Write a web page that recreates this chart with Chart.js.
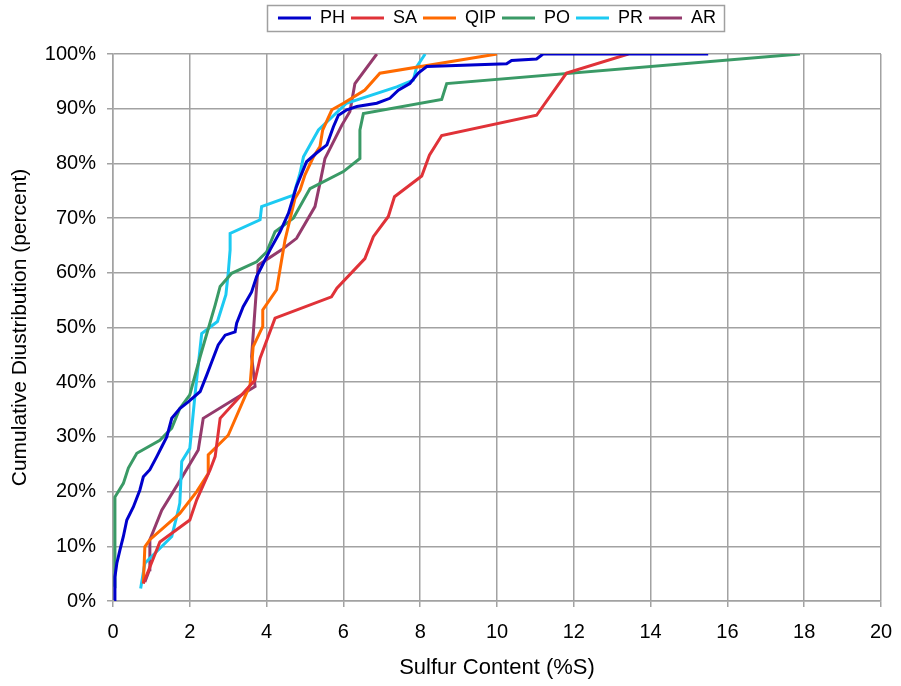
<!DOCTYPE html>
<html>
<head>
<meta charset="utf-8">
<script src="https://cdn.jsdelivr.net/npm/chart.js@4"></script>
<style>
html,body{margin:0;padding:0;background:#fff;}
#wrap{width:901px;height:686px;position:relative;}
</style>
</head>
<body>
<div id="wrap"><canvas id="c"></canvas></div>
<script>
// Sulfur content (%S) vs cumulative distribution (%)
const seriesNames = ['PH','SA','QIP','PO','PR','AR'];
const seriesColors = ['#0000cc','#e03238','#ff6a00','#3a9a66','#1ccaf2','#943a6c'];

const PH = [[0.03,0.2],[0.05,4.4],[0.10,6.9],[0.18,9.3],[0.27,11.8],[0.36,14.8],[0.53,17.2],[0.70,20.3],[0.79,22.7],[0.96,24],[1.14,26.4],[1.27,28.2],[1.40,30],[1.53,33.4],[1.74,35.2],[1.96,36.4],[2.27,38.3],[2.44,41.3],[2.57,43.7],[2.74,46.8],[2.92,48.6],[3.18,49.2],[3.22,50.8],[3.39,53.8],[3.61,56.5],[3.74,59.3],[3.87,61.1],[4.09,64.2],[4.35,67.5],[4.57,70.9],[4.78,75.8],[5.04,80.3],[5.30,81.9],[5.57,83.4],[5.74,86.7],[5.87,88.8],[6.09,89.8],[6.35,90.4],[6.87,91],[7.21,91.9],[7.43,93.4],[7.73,94.6],[7.95,96.5],[8.17,97.7],[10.25,98.2],[10.38,98.8],[11.03,99.1],[11.2,100],[15.5,100]];
const SA = [[0.79,3.2],[1.22,10.8],[2.0,14.8],[2.18,18.5],[2.53,24],[2.66,26.4],[2.79,33.4],[3.70,40.4],[3.83,44.4],[4.22,51.7],[5.69,55.6],[5.83,57.2],[6.56,62.6],[6.78,66.6],[7.17,70.3],[7.33,73.9],[8.04,77.7],[8.24,81.5],[8.56,85.1],[11.03,88.8],[11.81,96.5],[13.42,100]];
const QIP = [[0.79,3.2],[0.83,9.9],[0.96,11.2],[1.74,16],[2.18,20],[2.48,23.3],[2.48,26.7],[3.0,30.3],[3.57,39.5],[3.65,46.5],[3.9,50.2],[3.9,53.2],[4.26,56.9],[4.39,62.3],[4.48,66],[4.74,73.6],[4.87,75.1],[5.0,77.9],[5.22,81.2],[5.39,83.1],[5.46,86.1],[5.70,89.8],[6.0,91],[6.56,93.4],[6.95,96.5],[10.0,100]];
const PO = [[0.03,2.6],[0.05,19],[0.27,21.5],[0.40,24.3],[0.62,27],[1.22,29.4],[1.53,31.6],[1.74,35.2],[2.0,37.7],[2.27,44.7],[2.66,54.1],[2.79,57.5],[3.09,59.9],[3.74,62],[4.0,63.8],[4.22,67.5],[4.70,70],[5.13,75.4],[6.0,78.5],[6.43,80.9],[6.43,86.1],[6.52,89.1],[8.56,91.7],[8.69,94.6],[17.89,100]];
const PR = [[0.72,2.3],[0.83,6.9],[1.0,8.1],[1.53,11.8],[1.70,16.6],[1.74,17.9],[1.79,25.5],[2.0,27.9],[2.14,38],[2.31,48.9],[2.72,51.1],[2.94,56],[3.0,59.9],[3.05,64.2],[3.05,67.2],[3.83,69.7],[3.87,72.1],[4.70,74.2],[4.87,78.2],[4.96,81.2],[5.35,86.1],[6.08,91],[7.39,94],[7.82,95.2],[7.91,97.7],[8.13,100]];
const AR = [[0.83,3.5],[0.95,5.7],[0.96,11.2],[1.27,16.6],[1.70,21.5],[2.22,27.6],[2.35,33.4],[3.70,39.2],[3.61,44.7],[3.78,61.4],[4.39,64.2],[4.78,66.3],[5.26,72.1],[5.39,76.4],[5.52,80.9],[5.96,87],[6.17,89.5],[6.30,94.6],[6.87,100]];

const xTicks = [0,2,4,6,8,10,12,14,16,18,20];
const yTicks = [0,10,20,30,40,50,60,70,80,90,100];

const allSeries = [PH,SA,QIP,PO,PR,AR];
const FONT = "'Liberation Sans', Arial, sans-serif";
const GRID = '#a2a2a2';
const LEGEND_EXTRA = 17;

const datasets = allSeries.map((s,i)=>({
  label: seriesNames[i],
  data: s.map(p=>({x:p[0], y:p[1]})),
  borderColor: seriesColors[i],
  backgroundColor: seriesColors[i],
  borderWidth: 3,
  showLine: true,
  pointRadius: 0,
  pointHoverRadius: 0,
  tension: 0,
  fill: false
}));

const legendBox = {
  id: 'legendBox',
  beforeLayout(chart){
    const lg = chart.legend;
    if(lg && !lg._gapPatched){
      const f = lg.fit;
      lg.fit = function(){ f.apply(this, arguments); this.height += LEGEND_EXTRA; };
      lg._gapPatched = true;
    }
  },
  afterDraw(chart){
    const hb = chart.legend && chart.legend.legendHitBoxes;
    if(!hb || !hb.length) return;
    let l = Infinity, r = -Infinity, t = Infinity, b = -Infinity;
    hb.forEach(h=>{ l=Math.min(l,h.left); r=Math.max(r,h.left+h.width); t=Math.min(t,h.top); b=Math.max(b,h.top+h.height); });
    const ctx = chart.ctx;
    ctx.save();
    ctx.strokeStyle = '#a0a0a0';
    ctx.lineWidth = 1.5;
    ctx.strokeRect(Math.round(l-11)+0.5, Math.round(t-4)+0.5, Math.round(r-l+19), Math.round(b-t+8));
    ctx.restore();
  }
};

new Chart(document.getElementById('c'), {
  type: 'scatter',
  data: { datasets },
  plugins: [legendBox],
  options: {
    responsive: true,
    maintainAspectRatio: false,
    animation: false,
    events: [],
    layout: { padding: { left: 0, right: 0, top: 3, bottom: 0 } },
    plugins: {
      tooltip: { enabled: false },
      legend: {
        position: 'top',
        align: 'center',
        fullSize: false,
        labels: {
          usePointStyle: true,
          pointStyle: 'line',
          pointStyleWidth: 33,
          padding: 6,
          color: '#000',
          font: { family: FONT, size: 18 }
        }
      }
    },
    scales: {
      x: {
        type: 'linear',
        min: 0, max: 20,
        afterBuildTicks(scale){ scale.ticks = xTicks.map(v=>({value:v})); },
        afterFit(scale){ scale.height = 85; scale.paddingRight = 20; },
        grid: { color: GRID, lineWidth: 1.5, tickLength: 6, drawTicks: true },
        border: { color: GRID, width: 1.5 },
        ticks: { color: '#000', font: { family: FONT, size: 20 }, padding: 13, maxRotation: 0 },
        title: { display: true, text: 'Sulfur Content (%S)', color: '#000', font: { family: FONT, size: 22 }, padding: { top: 6, bottom: 5 } }
      },
      y: {
        type: 'linear',
        min: 0, max: 100,
        afterBuildTicks(scale){ scale.ticks = yTicks.map(v=>({value:v})); },
        afterFit(scale){ scale.width = 113; },
        grid: { color: GRID, lineWidth: 1.5, tickLength: 6, drawTicks: true },
        border: { color: GRID, width: 1.5 },
        ticks: { color: '#000', font: { family: FONT, size: 20 }, padding: 11, callback: v => v + '%' },
        title: { display: true, text: 'Cumulative Diustribution (percent)', color: '#000', font: { family: FONT, size: 21 }, padding: { top: 8, bottom: 4 } }
      }
    }
  }
});
</script>
</body>
</html>
